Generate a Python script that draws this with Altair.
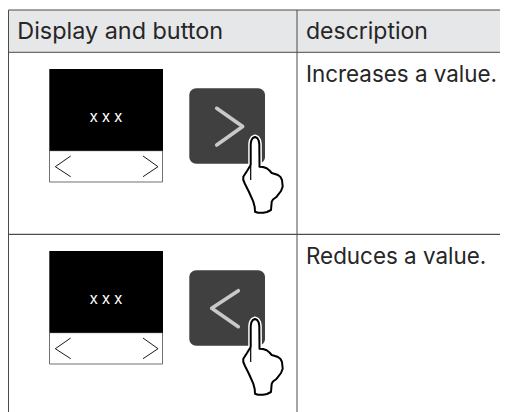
import altair as alt
import pandas as pd

HEADERS = ["Display and button", "description"]
HEADER_SIZE = [23.4, 23]
DESCRIPTIONS = ["Increases a value.", "Reduces a value."]
ROW_SHIFT = [0, 182]
COL_X = [8.5, 297]
RULE_Y = [10, 52.3, 234.3]
FONT = "Inter"
TEXT = "#262626"
LINE = "#4a4a4a"

HAND_X = [250.7, 250.7, 251.3, 252.8, 255, 257.2, 258.7, 259.3, 259.5, 263, 266.7, 269.5, 271.7, 275, 278, 280.5, 282, 282.7, 281, 276.7, 273, 271.7, 271, 267, 263.3, 258, 255, 254.7, 253.3, 249, 245, 243.3, 243.3, 247, 250.7]
HAND_Y = [165, 144, 140.5, 138, 137, 138, 140.5, 144, 166.7, 167, 168.3, 170.5, 173, 174, 175, 177, 180, 186.7, 191, 196.7, 199.5, 201.7, 210, 212, 212.7, 212.7, 211.7, 207, 201.7, 192, 184, 180, 176.7, 171, 165]

x = alt.X("x:Q", scale=alt.Scale(domain=[8, 500], nice=False, zero=False), axis=None)
y = alt.Y("y:Q", scale=alt.Scale(domain=[412, 8], nice=False, zero=False), axis=None)
x2 = alt.X2("x2:Q")
y2 = alt.Y2("y2:Q")

layers = []


def rect(x0, x1, y0, y1, **kw):
    d = pd.DataFrame({"x": [x0], "x2": [x1], "y": [y0], "y2": [y1]})
    layers.append(alt.Chart(d).mark_rect(**kw).encode(x=x, x2=x2, y=y, y2=y2))


def line(xs, ys, **kw):
    d = pd.DataFrame({"x": xs, "y": ys, "i": range(len(xs))})
    layers.append(alt.Chart(d).mark_line(**kw).encode(x=x, y=y, order="i:Q"))


def text(t, x0, y0, **kw):
    d = pd.DataFrame({"x": [x0], "y": [y0], "t": [t]})
    layers.append(alt.Chart(d).mark_text(font=FONT, **kw).encode(x=x, y=y, text="t:N"))


# header band
rect(8.5, 500, 10, 52.3, color="#e6e7e9")

# rows
CHEV_R = ([216.7, 242.7, 216.7], [108.3, 126.5, 145])
CHEV_L = ([238.3, 211.7, 238.3], [108.7, 126.3, 144.7])
for row, (shift, chev) in enumerate(zip(ROW_SHIFT, [CHEV_R, CHEV_L])):
    rect(49.5, 162.5, 150.7 + shift, 182 + shift, fill="#ffffff", stroke="#707070", strokeWidth=1)
    rect(49.3, 163, 69 + shift, 150.7 + shift, color="#000000")
    text("x\u2005x\u2005x", 106, 121.7 + shift, color="#ffffff", fontSize=15.5, align="center", baseline="alphabetic")
    line([70.7, 55.3, 70.7], [156 + shift, 166.7 + shift, 176.7 + shift], color="#000000", strokeWidth=0.9)
    line([143, 158, 143], [156 + shift, 166.7 + shift, 176.7 + shift], color="#000000", strokeWidth=0.9)
    rect(189.3, 265, 88.3 + shift, 163.7 + shift, color="#404040", cornerRadius=7)
    line(chev[0], [v + shift for v in chev[1]], color="#c9c9c9", strokeWidth=3.6, strokeCap="round", strokeJoin="round")
    hy = [v + shift for v in HAND_Y]
    line(HAND_X, hy, color="#ffffff", strokeWidth=5, strokeJoin="round")
    line(HAND_X, hy, fill="#ffffff", stroke="#000000", strokeWidth=2, strokeJoin="round", filled=True)
    line([250.7, 250.7], [165 + shift, 180 + shift], color="#000000", strokeWidth=1.2)

# rules
for v in RULE_Y:
    line([8.5, 500], [v, v], color=LINE if v < 100 else "#222222", strokeWidth=1)
for v in COL_X:
    line([v, v], [10, 412], color=LINE, strokeWidth=1)

# texts
BASE = [38.5, 81.7]
text(HEADERS[0], 17.3, BASE[0], color=TEXT, fontSize=HEADER_SIZE[0], align="left", baseline="alphabetic")
text(HEADERS[1], 306, BASE[0], color=TEXT, fontSize=HEADER_SIZE[1], align="left", baseline="alphabetic")
for shift, t in zip(ROW_SHIFT, DESCRIPTIONS):
    text(t, 306, BASE[1] + shift, color=TEXT, fontSize=22.4, align="left", baseline="alphabetic")

chart = alt.layer(*layers).properties(
    width=492, height=404, padding=0,
    autosize=alt.AutoSizeParams(type="none"),
).configure_view(stroke=None)

chart.save("out.html", embed_options={"renderer": "svg", "actions": False})
